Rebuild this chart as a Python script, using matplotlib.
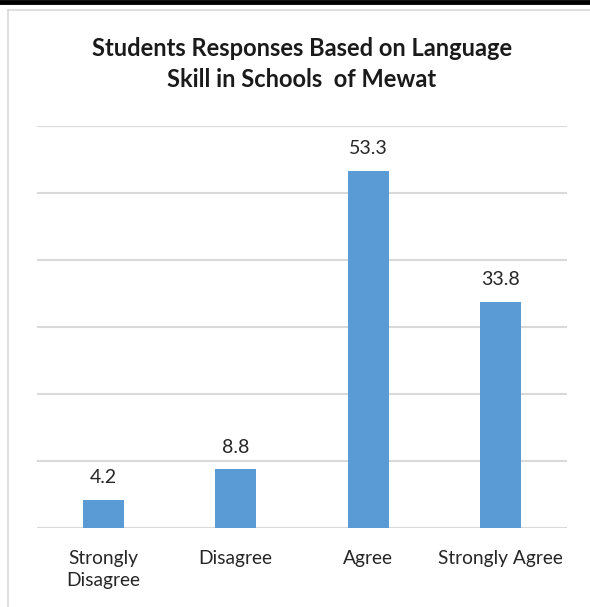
import matplotlib
matplotlib.use('Agg')
import matplotlib.pyplot as plt
from matplotlib.lines import Line2D
import numpy as np

categories = ['Strongly\nDisagree', 'Disagree', 'Agree', 'Strongly Agree']
values = [4.2, 8.8, 53.3, 33.8]
title = 'Students Responses Based on Language\nSkill in Schools  of Mewat'

plt.rcParams['font.family'] = ['Lato', 'DejaVu Sans']

W, H = 590, 607
fig = plt.figure(figsize=(W / 100, H / 100), dpi=100)

# plot area in pixels: left 37, right 567, top (value 60) 126, bottom 528
ax = fig.add_axes([37 / W, 1 - 528 / H, 530 / W, (528 - 126) / H])

x = np.arange(len(categories))
ax.bar(x, values, width=0.31, color='#5B9BD5', zorder=3)
for xi, v in zip(x, values):
    ax.text(xi, v + 2.0, f'{v:.1f}', ha='center', va='bottom', fontsize=14, color='#262626')

ax.set_xlim(-0.5, len(categories) - 0.5)
ax.set_ylim(0, 60)
ax.set_yticks(np.arange(0, 61, 10))
ax.yaxis.grid(True, color='#D9D9D9', linewidth=1.5, zorder=0)
ax.tick_params(axis='y', left=False, labelleft=False)
ax.tick_params(axis='x', length=0, pad=16, labelsize=13.8, labelcolor='#262626')
ax.set_xticks(x)
ax.set_xticklabels(categories, linespacing=1.35, va='top')
for s in ax.spines.values():
    s.set_visible(False)

fig.text(302 / W, 1 - 64 / H, title, ha='center', va='center', fontsize=17,
         fontweight='bold', color='#1a1a1a', linespacing=1.4)

# page and chart frame lines
fig.add_artist(Line2D([0, 1], [1 - 2 / H, 1 - 2 / H], color='black', linewidth=3.5, transform=fig.transFigure))
fig.add_artist(Line2D([8 / W, 1], [1 - 10 / H, 1 - 10 / H], color='#D9D9D9', linewidth=1.2, transform=fig.transFigure))
fig.add_artist(Line2D([8 / W, 8 / W], [0, 1 - 10 / H], color='#D9D9D9', linewidth=1.2, transform=fig.transFigure))

fig.savefig('out.png', dpi=100)
